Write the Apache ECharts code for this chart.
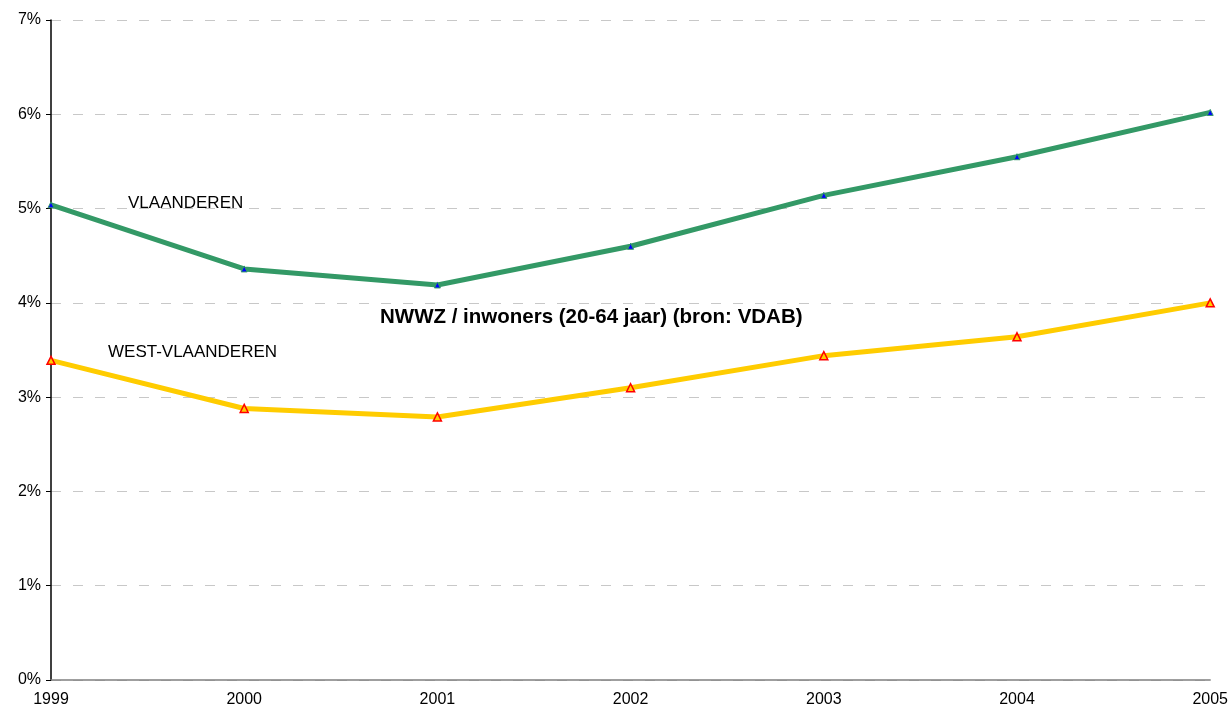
<!DOCTYPE html>
<html><head><meta charset="utf-8">
<script src="https://cdn.jsdelivr.net/npm/echarts@6/dist/echarts.min.js"></script>
<style>html,body{margin:0;padding:0;background:#fff}#c{width:1231px;height:711px}</style>
</head><body><div id="c"></div>
<script>
const years = ['1999','2000','2001','2002','2003','2004','2005'];
const vlaanderen = [5.04, 4.36, 4.19, 4.60, 5.14, 5.55, 6.02];
const westVlaanderen = [3.39, 2.88, 2.79, 3.10, 3.44, 3.64, 4.00];
const chart = echarts.init(document.getElementById('c'));
const font = 'Liberation Sans, Arial, sans-serif';
chart.setOption({
  animation: false,
  title: {
    text: 'NWWZ / inwoners (20-64 jaar) (bron: VDAB)',
    left: 375, top: 302,
    textStyle: {fontFamily: font, fontSize: 20.5, fontWeight: 'bold', color: '#000'}
  },
  grid: {left: 51, right: 20, top: 20, bottom: 31, containLabel: false},
  xAxis: {
    type: 'category', data: years, boundaryGap: false,
    axisLine: {lineStyle: {color: '#808080', width: 1.5}},
    axisTick: {show: false},
    axisLabel: {fontFamily: font, fontSize: 16, color: '#000', margin: 12}
  },
  yAxis: {
    type: 'value', min: 0, max: 7, interval: 1,
    axisLine: {show: true, lineStyle: {color: '#000', width: 1.5}},
    axisTick: {show: true, length: 5, lineStyle: {color: '#000'}},
    axisLabel: {fontFamily: font, fontSize: 16, color: '#000', margin: 10, formatter: v => v + '%'},
    splitLine: {show: true, lineStyle: {color: '#c8c8c8', type: [10, 12], width: 1}}
  },
  series: [
    {
      name: 'VLAANDEREN', type: 'line', data: vlaanderen,
      lineStyle: {color: '#339966', width: 5},
      symbol: 'triangle', symbolSize: 6,
      itemStyle: {color: '#0000ff', borderColor: '#339966', borderWidth: 1},
      z: 3
    },
    {
      name: 'WEST-VLAANDEREN', type: 'line', data: westVlaanderen,
      lineStyle: {color: '#ffcc00', width: 5},
      symbol: 'triangle', symbolSize: 8,
      itemStyle: {color: '#ffcc00', borderColor: '#ff0000', borderWidth: 1.5},
      z: 3
    }
  ],
  graphic: [
    {type: 'text', left: 128, top: 195, style: {text: 'VLAANDEREN', font: '17px ' + font, fill: '#000'}},
    {type: 'text', left: 108, top: 344, style: {text: 'WEST-VLAANDEREN', font: '17px ' + font, fill: '#000'}}
  ]
});
</script></body></html>
